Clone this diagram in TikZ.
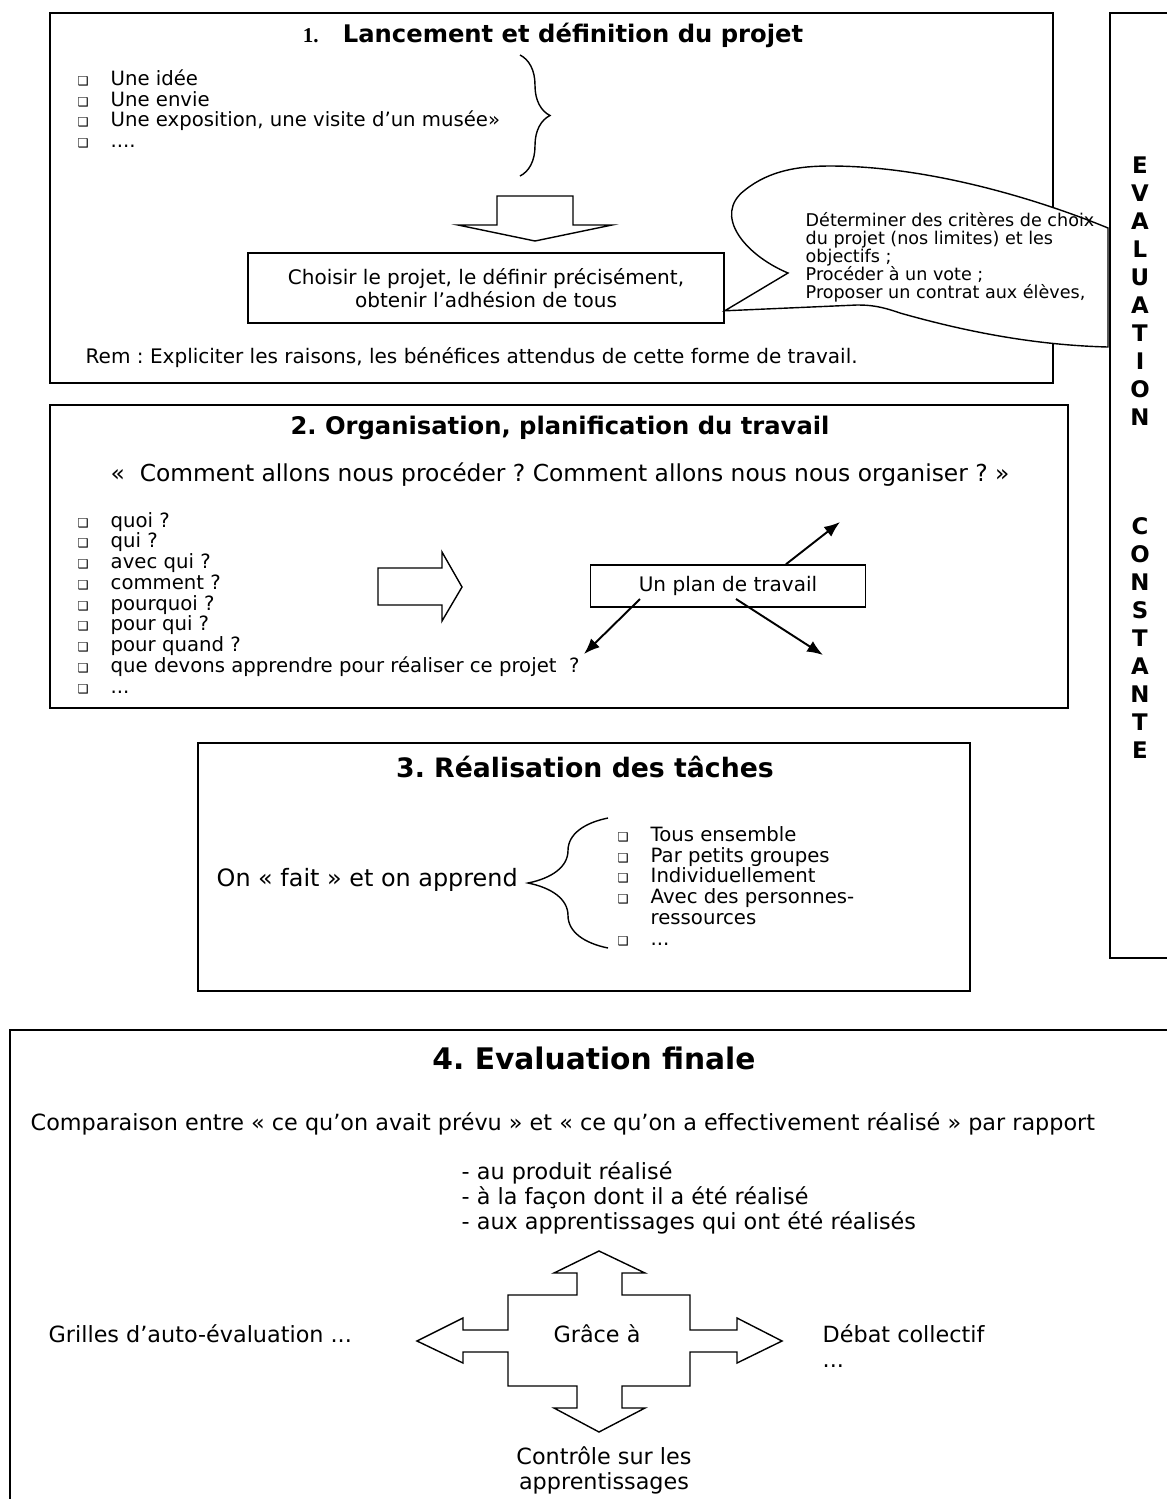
\documentclass[tikz,border=0pt]{standalone}
\usepackage{fontspec}
\setmainfont{DejaVu Sans}
\newfontfamily\numfont{Liberation Serif}
\usetikzlibrary{arrows,arrows.meta}
\usetikzlibrary{decorations.pathreplacing}
\usetikzlibrary{calc}
\usetikzlibrary{positioning}
\newcommand{\chk}{\makebox[0.66cm][l]{\fontsize{7}{7}\selectfont ❑}}
\frenchspacing

\tikzset{
	frame/.style	= {draw, line width=0.9pt},
	title/.style	= {font=\bfseries\fontsize{13.8}{16}\selectfont},
	list/.style		= {align=left, inner sep=0pt, font=\fontsize{11.2}{11.8}\selectfont},
	normal/.style	= {font=\fontsize{11.4}{13.5}\selectfont},
	small/.style	= {align=left, inner sep=0pt, font=\fontsize{10}{10.3}\selectfont},
	big/.style		= {font=\fontsize{12.7}{14.2}\selectfont},
	vert/.style		= {align=center, inner sep=0pt, font=\bfseries\fontsize{13}{15.9}\selectfont},
	ray/.style		= {-{Latex[length=9pt,width=7pt]}, line width=1.1pt}
}

\begin{document}
\begin{tikzpicture}[x=0.02cm, y=-0.02cm, line width=0.8pt]
		\useasboundingbox (0,0) rectangle (1167,1499);

		\draw[frame] (50,13) rectangle (1053,383);
		\node(t1)[title]	at (553,35)	{{\numfont\fontsize{12}{12}\selectfont 1.}\hspace{1em}Lancement et définition du projet};
		\node(ideas)[list, anchor=west] at (77,109) {\chk Une idée\\ \chk Une envie\\ \chk Une exposition, une visite d’un musée»\\ \chk ....};
		\draw [decorate,decoration={brace,amplitude=0.6cm}] (520,55) -- (520,176);
		\draw (497,196) -- (573,196) -- (573,225) -- (612,225) -- (535,241) -- (458,225) -- (497,225) -- cycle;
		\node(choose)[frame, normal, minimum width=9.52cm, minimum height=1.4cm, align=center] at (486,288) {Choisir le projet, le définir précisément,\\ obtenir l’adhésion de tous};
		\coordinate(tip) at ($(choose.south east)+(0,-13)$);
		\draw[fill=white] (tip) -- (788,273) .. controls (745,255) and (712,215) .. (745,190) .. controls (770,170) and (800,166) .. (830,166) .. controls (930,166) and (1040,200) .. (1108,228) -- (1108,347) .. controls (1030,345) and (960,330) .. (900,313) .. controls (880,306) and (870,305) .. (857,305) -- cycle;
		\node(crit)[small, anchor=west] at (805,257) {Déterminer des critères de choix\\ du projet (nos limites) et les\\ objectifs ;\\ Procéder à un vote ;\\ Proposer un contrat aux élèves,};
		\node(rem)[normal, anchor=west, inner sep=0pt] at (85,358) {Rem : Expliciter les raisons, les bénéfices attendus de cette forme de travail.};

		\draw[frame] (50,405) rectangle (1068,708);
		\node(t2)[title]	at (560,428)	{2. Organisation, planification du travail};
		\node(how)[font=\fontsize{13.3}{15}\selectfont]	at (560,475)	{«\ \ Comment allons nous procéder ? Comment allons nous nous organiser ? »};
		\node(questions)[list, anchor=west] at (77,603) {\chk quoi ?\\ \chk qui ?\\ \chk avec qui ?\\ \chk comment ?\\ \chk pourquoi ?\\ \chk pour qui ?\\ \chk pour quand ?\\ \chk que devons apprendre pour réaliser ce projet\ \ ?\\ \chk ...};
		\draw (378,568) -- (442,568) -- (442,552) -- (462,587) -- (442,621) -- (442,605) -- (378,605) -- cycle;
		\node(plan)[frame, normal, minimum width=5.5cm, minimum height=0.84cm] at (728,586) {Un plan de travail};
		\coordinate(aimA) at (840,522);
		\coordinate(aimB) at (584,654);
		\coordinate(aimC) at (823,655);
		\draw[ray] ($(plan.north)+(58,0)$)	-- (aimA);
		\draw[ray] ($(plan.center)+(-88,13)$)	-- (aimB);
		\draw[ray] ($(plan.center)+(8,13)$)	-- (aimC);

		\draw[frame] (198,743) rectangle (970,991);
		\node(t3)[title, font=\bfseries\fontsize{15.2}{17}\selectfont] at (585,767) {3. Réalisation des tâches};
		\node(doing)[font=\fontsize{13.6}{15}\selectfont, anchor=west, inner sep=0pt] at (216,880) {On « fait » et on apprend};
		\draw [decorate,decoration={brace,amplitude=1.6cm}] (608,948) -- (608,818);
		\node(modes)[list, anchor=west] at (617,886) {\chk Tous ensemble\\ \chk Par petits groupes\\ \chk Individuellement\\ \chk Avec des personnes-\\ \hspace{0.66cm}ressources\\ \chk ...};

		\draw[frame] (1110,13) rectangle (1200,958);
		\node(evalA)[vert] at (1140,291) {E\\V\\A\\L\\U\\A\\T\\I\\O\\N};
		\node(evalB)[vert] at (1140,638) {C\\O\\N\\S\\T\\A\\N\\T\\E};

		\draw[frame] (10,1030) rectangle (1200,1520);
		\node(t4)[title, font=\bfseries\fontsize{16.9}{19}\selectfont] at (594,1058) {4. Evaluation finale};
		\node(compare)[big, anchor=west, inner sep=0pt] at (30,1124) {Comparaison entre « ce qu’on avait prévu » et « ce qu’on a effectivement réalisé » par rapport};
		\node(aspects)[big, anchor=west, align=left, inner sep=0pt] at (461,1198) {- au produit réalisé\\ - à la façon dont il a été réalisé\\ - aux apprentissages qui ont été réalisés};
		\draw (599,1251) -- (645,1273) -- (622,1273) -- (622,1295) -- (690,1295) -- (690,1330) -- (737,1330) -- (737,1318) -- (782,1341) -- (737,1363) -- (737,1352) -- (690,1352) -- (690,1386) -- (622,1386) -- (622,1408) -- (645,1408) -- (599,1432) -- (554,1408) -- (577,1408) -- (577,1386) -- (508,1386) -- (508,1352) -- (463,1352) -- (463,1363) -- (417,1341) -- (463,1318) -- (463,1330) -- (508,1330) -- (508,1295) -- (577,1295) -- (577,1273) -- (554,1273) -- cycle;
		\node(thanks)[big] at (597,1334) {Grâce à};
		\node(grids)[big, anchor=west, inner sep=0pt] at (48,1334) {Grilles d’auto-évaluation ...};
		\node(debate)[big, anchor=west, align=left, inner sep=0pt] at (822,1346) {Débat collectif\\ ...};
		\node(control)[big, align=center] at (604,1470) {Contrôle sur les\\ apprentissages};
	\end{tikzpicture}
\end{document}
